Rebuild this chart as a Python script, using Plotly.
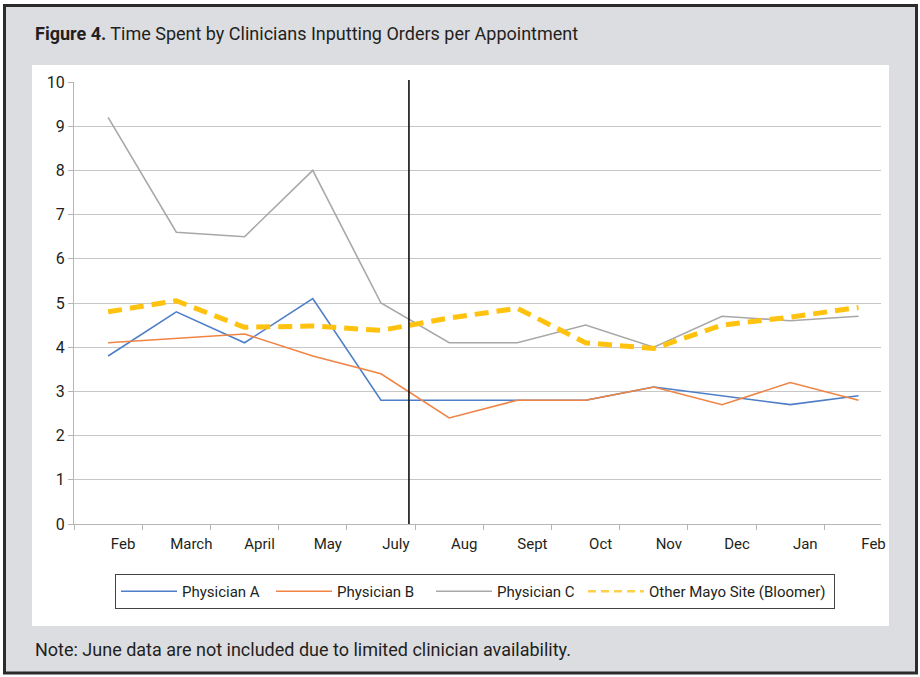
import plotly.graph_objects as go

# ---------------- data ----------------
months = ["Feb", "March", "April", "May", "July", "Aug", "Sept", "Oct", "Nov", "Dec", "Jan", "Feb"]
physician_a = [3.8, 4.8, 4.1, 5.1, 2.8, 2.8, 2.8, 2.8, 3.1, 2.9, 2.7, 2.9]
physician_b = [4.1, 4.2, 4.3, 3.8, 3.4, 2.4, 2.8, 2.8, 3.1, 2.7, 3.2, 2.8]
physician_c = [9.2, 6.6, 6.5, 8.0, 5.0, 4.1, 4.1, 4.5, 4.0, 4.7, 4.6, 4.7]
bloomer = [4.8, 5.05, 4.45, 4.48, 4.38, 4.66, 4.88, 4.1, 3.97, 4.5, 4.68, 4.9]
y_ticks = [0, 1, 2, 3, 4, 5, 6, 7, 8, 9, 10]
divider_x = 4.41  # vertical marker between July and Aug

# ---------------- layout geometry (pixels) ----------------
W_FIG, H_FIG = 920, 677
L, R, T, B = 74, 881, 82, 524
PW, PH = R - L, B - T


def px(x):
    return (x - L) / PW


def py(y):
    return (B - y) / PH


TXT = "#231f20"
FONT = "Roboto"

idx = list(range(len(months)))

fig = go.Figure()
series = [
    ("Physician A", physician_a, "#4f7ec8", 1.6, "solid", 84),
    ("Physician B", physician_b, "#ef8445", 1.6, "solid", 89),
    ("Physician C", physician_c, "#a8a8a8", 1.6, "solid", 81),
]
for name, vals, color, width, dash, lw in series:
    fig.add_trace(go.Scatter(
        x=idx, y=vals, name=name, mode="lines",
        line=dict(color=color, width=width, dash=dash),
        legendwidth=lw,
    ))

# Bloomer: thick dashed line in plot, thin dashed sample in legend
fig.add_trace(go.Scatter(
    x=idx, y=bloomer, name="Other Mayo Site (Bloomer)", mode="lines",
    line=dict(color="#ffc20e", width=5, dash="14px,8px"),
    showlegend=False, legendgroup="bloomer",
))
fig.add_trace(go.Scatter(
    x=[None], y=[None], name="Other Mayo Site (Bloomer)", mode="lines",
    line=dict(color="#ffd04a", width=2.5, dash="8px,5px"),
    legendgroup="bloomer", legendwidth=180,
))

shapes = [
    # grey outer card with dark border
    dict(type="rect", xref="paper", yref="paper",
         x0=px(4.5), x1=px(916.5), y0=py(673), y1=py(5.5),
         fillcolor="#dcdde0", line=dict(color="#2b2b2b", width=3), layer="below"),
    # white chart panel
    dict(type="rect", xref="paper", yref="paper",
         x0=px(32), x1=px(889), y0=py(626), y1=py(65),
         fillcolor="white", line=dict(width=0), layer="below"),
    # divider line
    dict(type="line", xref="x", yref="paper", x0=divider_x, x1=divider_x,
         y0=0, y1=py(80), line=dict(color="#111111", width=1.6)),
]

annotations = [
    dict(xref="paper", yref="paper", x=px(33), y=py(34), xanchor="left", yanchor="middle",
         text="<b>Figure 4.</b> Time Spent by Clinicians Inputting Orders per Appointment",
         showarrow=False, font=dict(family=FONT, size=18, color=TXT)),
    dict(xref="paper", yref="paper", x=px(33), y=py(649), xanchor="left", yanchor="middle",
         text="Note: June data are not included due to limited clinician availability.",
         showarrow=False, font=dict(family=FONT, size=18, color=TXT)),
]

fig.update_layout(
    width=W_FIG, height=H_FIG,
    margin=dict(l=L, r=W_FIG - R, t=T, b=H_FIG - B, pad=0),
    paper_bgcolor="white",
    plot_bgcolor="white",
    font=dict(family=FONT, color=TXT),
    shapes=shapes,
    annotations=annotations,
    showlegend=True,
    legend=dict(
        orientation="h", x=px(115), y=py(574), xanchor="left", yanchor="top",
        bgcolor="white", bordercolor="#444444", borderwidth=1,
        font=dict(family=FONT, size=15, color=TXT),
        itemwidth=56, traceorder="normal",
    ),
    xaxis=dict(
        range=[-0.5, 11.33],
        tickmode="array", tickvals=idx, ticktext=months,
        ticks="", showgrid=False, zeroline=False,
        showline=True, linecolor="#b5b5b5", linewidth=1,
        tickfont=dict(family=FONT, size=15, color=TXT),
        ticklabelshift=15, ticklabelstandoff=6,
        minor=dict(tickmode="array", tickvals=[i - 0.5 for i in idx] + [11.5],
                   ticks="outside", ticklen=5, tickcolor="#b5b5b5", tickwidth=1, showgrid=False),
    ),
    yaxis=dict(
        range=[0, 10], tickmode="array", tickvals=y_ticks,
        showgrid=True, gridcolor="#c6c6c6", gridwidth=1, zeroline=False,
        showline=True, linecolor="#b5b5b5", linewidth=1,
        ticks="outside", ticklen=5, tickcolor="#b5b5b5",
        tickfont=dict(family=FONT, size=16, color=TXT),
    ),
)

fig.write_html("out.html")
